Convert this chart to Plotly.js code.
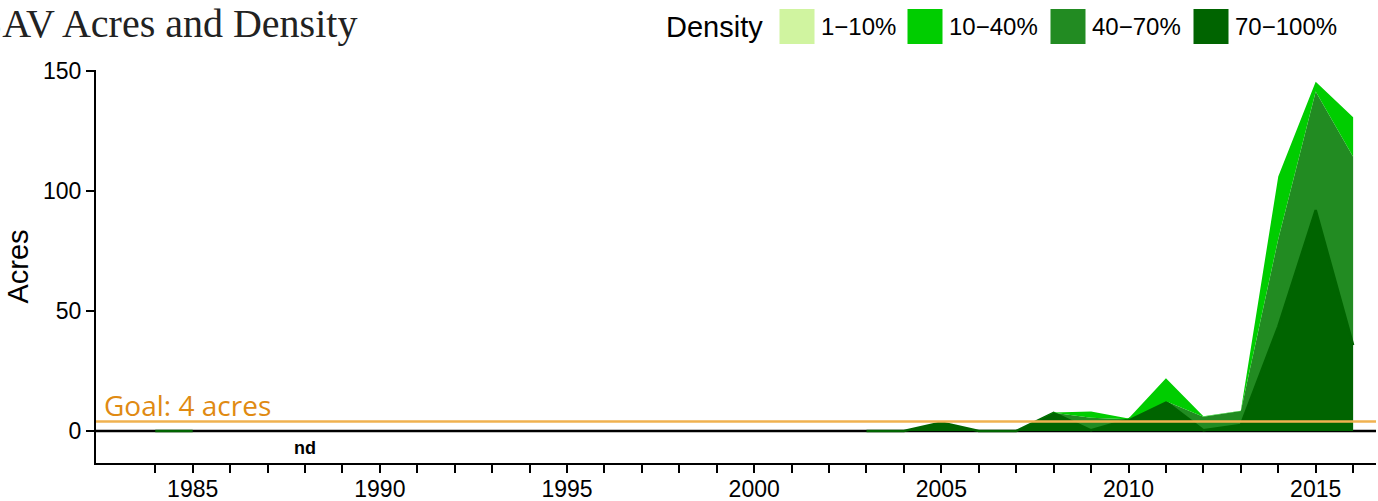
<!DOCTYPE html>
<html>
<head>
<meta charset="utf-8">
<script src="https://cdn.plot.ly/plotly-3.0.1.min.js"></script>
<style>
  html, body { margin: 0; padding: 0; background: #ffffff; }
  #chart { width: 1378px; height: 501px; }
</style>
</head>
<body>
<div id="chart"></div>
<script>
// ---------------- DATA ----------------
const years = [1984, 1985, 1986, 1987, 1988, 1989, 1990, 1991, 1992, 1993, 1994,
               1995, 1996, 1997, 1998, 1999, 2000, 2001, 2002, 2003, 2004, 2005,
               2006, 2007, 2008, 2009, 2010, 2011, 2012, 2013, 2014, 2015, 2016];

const density70to100 = [0, 0, null, null, null, null, null, null, null, null, null,
                        null, null, null, null, null, null, null, null, 0, 0, 3.5,
                        0, 0, 7.5, 0.3, 4.8, 12.2, 0.3, 2.5, 43.5, 92, 35.8];
const density40to70  = [0, 0, null, null, null, null, null, null, null, null, null,
                        null, null, null, null, null, null, null, null, 0, 0, 0,
                        0, 0, 0.1, 5.2, 0.1, 0.2, 5.6, 5.8, 36.5, 49.4, 78.5];
const density10to40  = [0, 0, null, null, null, null, null, null, null, null, null,
                        null, null, null, null, null, null, null, null, 0, 0, 0,
                        0, 0, 0.1, 2.6, 0.3, 9.6, 0.2, 0.1, 26, 4.1, 16.4];
const density1to10   = [0, 0, null, null, null, null, null, null, null, null, null,
                        null, null, null, null, null, null, null, null, 0, 0, 0,
                        0, 0, 0, 0, 0, 0, 0, 0, 0, 0, 0];

const densityLabels = ['1\u221210%', '10\u221240%', '40\u221270%', '70\u2212100%'];
const densityColors = ['#d0f4a0', '#00cd00', '#228b22', '#006400'];
const goalAcres = 4;
const noDataYear = 1988;
const noDataLabel = 'nd';
const yTickValues = [0, 50, 100, 150];

// ---------------- BUILD ----------------
// series listed bottom -> top of the stack
const stackOrder = [
  { vals: density70to100, color: densityColors[3] },
  { vals: density40to70,  color: densityColors[2] },
  { vals: density10to40,  color: densityColors[1] },
  { vals: density1to10,   color: densityColors[0] }
];

// contiguous runs of years that have data
const runs = [];
let cur = null;
years.forEach((y, i) => {
  if (density70to100[i] !== null) {
    if (!cur) { cur = []; runs.push(cur); }
    cur.push(i);
  } else {
    cur = null;
  }
});

const traces = [];
runs.forEach((run, r) => {
  stackOrder.forEach((s, k) => {
    traces.push({
      type: 'scatter',
      mode: 'lines',
      x: run.map(i => years[i]),
      y: run.map(i => s.vals[i]),
      stackgroup: 'seg' + r,
      fillcolor: s.color,
      line: { color: k === 0 ? s.color : densityColors[3], width: k === 0 ? 2.5 : 0 },
      hoverinfo: 'skip',
      showlegend: false
    });
  });
});

// pixel -> paper helpers (plot area: left 96, width 1280, bottom 463, height 393)
const PL = 96, PW = 1280, PB = 463, PH = 393;
const px = v => (v - PL) / PW;
const py = v => (PB - v) / PH;

const swatchLeft = [779.5, 907.5, 1050.5, 1193.5];
const swatchSize = 35;
const swatchTop = 9;

const shapes = [
  { type: 'line', xref: 'paper', yref: 'y', x0: 0, x1: 1, y0: 0, y1: 0,
    line: { color: '#000000', width: 2.5 }, layer: 'below' },
  { type: 'line', xref: 'paper', yref: 'y', x0: 0, x1: 1, y0: goalAcres, y1: goalAcres,
    line: { color: '#f0b250', width: 2.5 }, layer: 'above' }
];
const annotations = [
  { xref: 'paper', yref: 'paper', x: px(-22), y: py(23.5), xanchor: 'left', yanchor: 'middle',
    text: 'SAV Acres and Density', showarrow: false,
    font: { family: '"Liberation Serif", "Times New Roman", serif', size: 40, color: '#222222' } },
  { xref: 'x', yref: 'y', x: 1982.58, y: 10.8, xanchor: 'left', yanchor: 'middle',
    text: 'Goal: ' + goalAcres + ' acres', showarrow: false,
    font: { family: '"Open Sans", sans-serif', size: 28, color: '#e08a12' } },
  { xref: 'x', yref: 'y', x: noDataYear, y: -7.0, xanchor: 'center', yanchor: 'middle',
    text: '<b>' + noDataLabel + '</b>', showarrow: false,
    font: { family: '"Liberation Sans", Arial, sans-serif', size: 18, color: '#000000' } },
  { xref: 'paper', yref: 'paper', x: px(664), y: py(26.8), xanchor: 'left', yanchor: 'middle',
    text: 'Density', showarrow: false,
    font: { family: '"Liberation Sans", Arial, sans-serif', size: 29, color: '#000000' } }
];
densityLabels.forEach((lab, i) => {
  shapes.push({
    type: 'rect', xref: 'paper', yref: 'paper',
    x0: px(swatchLeft[i]), x1: px(swatchLeft[i] + swatchSize),
    y0: py(swatchTop + swatchSize), y1: py(swatchTop),
    fillcolor: densityColors[i], line: { width: 0 }
  });
  annotations.push({
    xref: 'paper', yref: 'paper', x: px(swatchLeft[i] + swatchSize + 4), y: py(26.8),
    xanchor: 'left', yanchor: 'middle', text: lab, showarrow: false,
    font: { family: '"Liberation Sans", Arial, sans-serif', size: 24, color: '#000000' }
  });
});

const layout = {
  width: 1378, height: 501,
  margin: { l: PL, r: 1378 - PL - PW, t: PB - PH, b: 501 - PB, pad: 0 },
  paper_bgcolor: '#ffffff', plot_bgcolor: '#ffffff',
  showlegend: false,
  font: { family: '"Liberation Sans", Arial, sans-serif', color: '#000000' },
  xaxis: {
    range: [1982.417, 2016.611],
    showgrid: false, zeroline: false,
    showline: true, linecolor: '#000000', linewidth: 2,
    ticks: 'outside', ticklen: 8, tickwidth: 2, tickcolor: '#000000',
    tick0: 1985, dtick: 5,
    ticklabelstandoff: -4,
    tickfont: { size: 23, color: '#000000' },
    minor: { tickmode: 'array', tickvals: years, ticks: 'outside', ticklen: 8, tickwidth: 2,
             tickcolor: '#000000', showgrid: false },
    fixedrange: true
  },
  yaxis: {
    range: [-13.33, 150.4],
    showgrid: false, zeroline: false,
    showline: true, linecolor: '#000000', linewidth: 2,
    ticks: 'outside', ticklen: 8, tickwidth: 2, tickcolor: '#000000',
    tickvals: yTickValues,
    tickfont: { size: 23, color: '#000000' },
    title: { text: 'Acres', font: { size: 29, color: '#000000' }, standoff: 6 },
    fixedrange: true
  },
  shapes: shapes,
  annotations: annotations
};

Plotly.newPlot('chart', traces, layout, { displayModeBar: false, staticPlot: true });
</script>
</body>
</html>
